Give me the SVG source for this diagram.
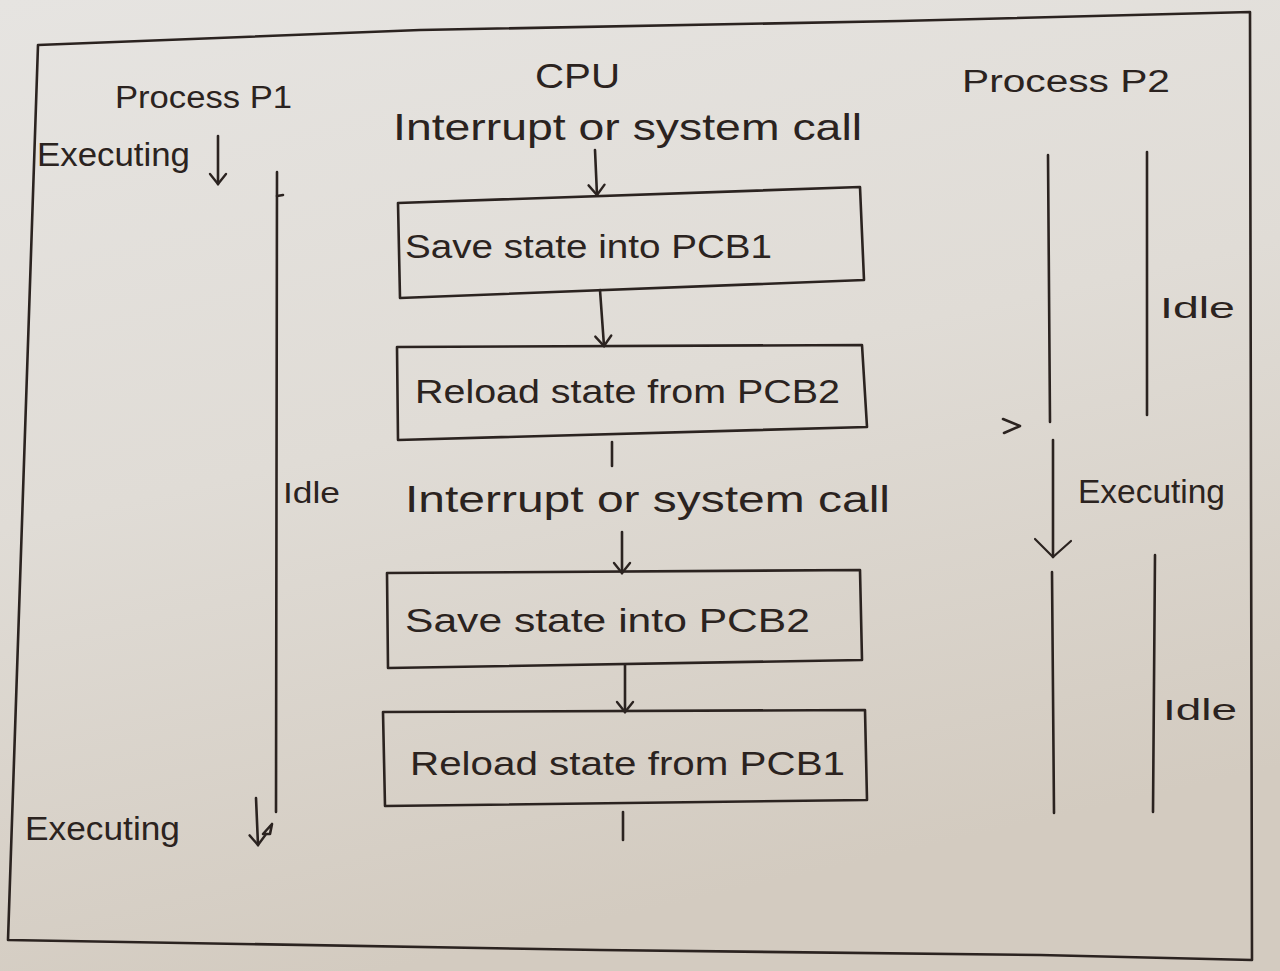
<svg xmlns="http://www.w3.org/2000/svg" width="1280" height="971" viewBox="0 0 1280 971">
<defs>
<linearGradient id="paper" x1="0" y1="0" x2="0.3" y2="1">
<stop offset="0" stop-color="#e6e4e1"/>
<stop offset="0.5" stop-color="#e0dcd6"/>
<stop offset="1" stop-color="#d3cbc0"/>
</linearGradient>
<marker id="arr" viewBox="0 0 20 20" refX="18" refY="10" markerWidth="20" markerHeight="20" markerUnits="userSpaceOnUse" orient="auto">
<path d="M8 2 L18 10 L8 18" fill="none" stroke="#2b2320" stroke-width="2.4" stroke-linecap="round"/>
</marker>
<marker id="arrbig" viewBox="0 0 24 40" refX="20" refY="20" markerWidth="24" markerHeight="40" markerUnits="userSpaceOnUse" orient="auto">
<path d="M4 2 L20 20 L2 38" fill="none" stroke="#2b2320" stroke-width="2.2" stroke-linecap="round"/>
</marker>
</defs>
<style>
.ink{fill:none;stroke:#2b2320;stroke-width:2.6;stroke-linecap:round;stroke-linejoin:round}
.box{fill:none;stroke:#2b2320;stroke-width:2.6;stroke-linejoin:round}
.t{font-family:"Liberation Sans","Noto Sans",sans-serif;fill:#2b2320}
</style>
<rect x="0" y="0" width="1280" height="971" fill="url(#paper)"/>
<!-- page frame -->
<path class="ink" d="M38 45 L420 30 L900 21 L1250 12 L1252 960 L1040 955 L600 950 L8 940 L38 45" />

<g id="process-p1">
<text class="t" x="115" y="108" font-size="31" textLength="177" lengthAdjust="spacingAndGlyphs">Process P1</text>
</g>
<g id="cpu">
<text class="t" x="535" y="88" font-size="35" textLength="85" lengthAdjust="spacingAndGlyphs">CPU</text>
</g>
<g id="process-p2">
<text class="t" x="962" y="92" font-size="31" textLength="208" lengthAdjust="spacingAndGlyphs">Process P2</text>
</g>

<g id="p1-executing-top">
<text class="t" x="37" y="166" font-size="33" textLength="153" lengthAdjust="spacingAndGlyphs">Executing</text>
</g>
<g id="p1-idle">
<path class="ink" d="M277 172 L276 812"/>
<path class="ink" d="M277 196 L283 195"/>
<text class="t" x="283" y="503" font-size="29" textLength="57" lengthAdjust="spacingAndGlyphs">Idle</text>
</g>
<g id="p1-executing-bottom">
<text class="t" x="25" y="840" font-size="33" textLength="155" lengthAdjust="spacingAndGlyphs">Executing</text>
</g>

<g id="interrupt-1">
<text class="t" x="393" y="140" font-size="37" textLength="469" lengthAdjust="spacingAndGlyphs">Interrupt or system call</text>
</g>
<g id="save-pcb1">
<path class="box" d="M398 203 L860 187 L864 280 L400 298 Z"/>
<text class="t" x="405" y="258" font-size="33" textLength="367" lengthAdjust="spacingAndGlyphs">Save state into PCB1</text>
</g>
<g id="reload-pcb2">
<path class="box" d="M397 347 L862 345 L867 427 L398 440 Z"/>
<text class="t" x="415" y="403" font-size="33" textLength="425" lengthAdjust="spacingAndGlyphs">Reload state from PCB2</text>
</g>
<g id="interrupt-2">
<text class="t" x="405" y="512" font-size="37" textLength="485" lengthAdjust="spacingAndGlyphs">Interrupt or system call</text>
</g>
<g id="save-pcb2">
<path class="box" d="M387 573 L860 570 L862 660 L388 668 Z"/>
<text class="t" x="405" y="632" font-size="33" textLength="405" lengthAdjust="spacingAndGlyphs">Save state into PCB2</text>
</g>
<g id="reload-pcb1">
<path class="box" d="M383 712 L865 710 L867 800 L385 806 Z"/>
<text class="t" x="410" y="775" font-size="33" textLength="435" lengthAdjust="spacingAndGlyphs">Reload state from PCB1</text>
</g>

<g id="p2-idle-top">
<path class="ink" d="M1048 155 L1050 422"/>
<path class="ink" d="M1147 152 L1147 415"/>
<text class="t" x="1160" y="318" font-size="29" textLength="75" lengthAdjust="spacingAndGlyphs">Idle</text>
</g>
<g id="p2-executing">
<text class="t" x="1078" y="503" font-size="33" textLength="147" lengthAdjust="spacingAndGlyphs">Executing</text>
</g>
<g id="p2-idle-bottom">
<path class="ink" d="M1052 572 L1054 813"/>
<path class="ink" d="M1155 555 L1153 812"/>
<text class="t" x="1163" y="720" font-size="29" textLength="74" lengthAdjust="spacingAndGlyphs">Idle</text>
</g>

<g id="connectors">
<path class="ink" d="M218 136 L218 184" marker-end="url(#arr)"/>
<path class="ink" d="M595 150 L597 195" marker-end="url(#arr)"/>
<path class="ink" d="M600 290 L604 346" marker-end="url(#arr)"/>
<path class="ink" d="M612 442 L612 466"/>
<path class="ink" d="M622 532 L622 573" marker-end="url(#arr)"/>
<path class="ink" d="M625 665 L625 712" marker-end="url(#arr)"/>
<path class="ink" d="M623 812 L623 840"/>
<path class="ink" d="M256 798 L258 845" marker-end="url(#arr)"/>
<path class="ink" d="M263 834 L272 824 L270 834 Z"/>
<path class="ink" d="M1003 419 L1020 426 L1004 433"/>
<path class="ink" d="M1053 440 L1053 557" marker-end="url(#arrbig)"/>
</g>
</svg>
